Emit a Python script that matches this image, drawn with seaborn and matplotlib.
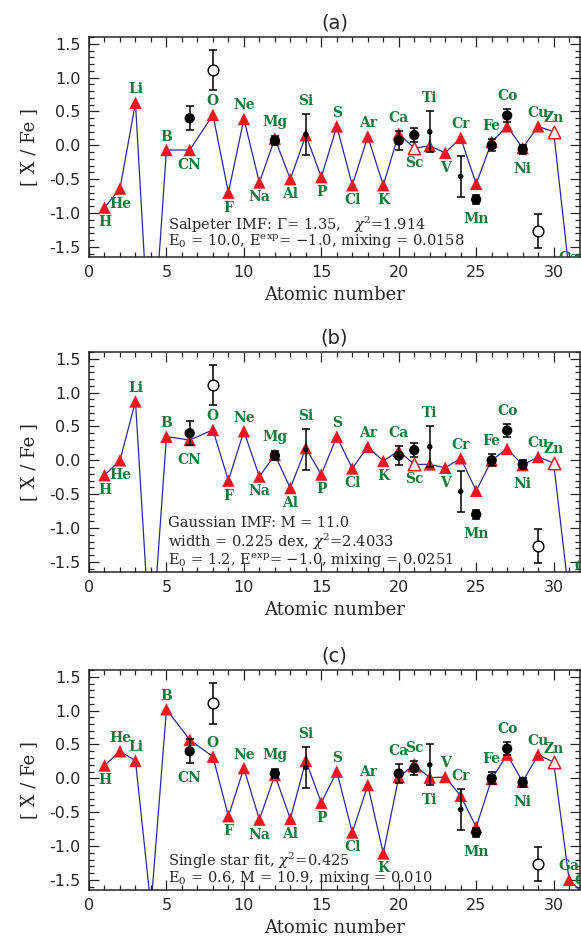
import numpy as np
import pandas as pd
import matplotlib
matplotlib.use('Agg')
import matplotlib.pyplot as plt
from matplotlib.ticker import MultipleLocator, FormatStrFormatter
import seaborn as sns

# Elements along the atomic-number axis (C and N combined as CN at 6.5)
elements = ['H', 'He', 'Li', 'Be', 'B', 'CN', 'O', 'F', 'Ne', 'Na', 'Mg', 'Al', 'Si', 'P', 'S',
            'Cl', 'Ar', 'K', 'Ca', 'Sc', 'Ti', 'V', 'Cr', 'Mn', 'Fe', 'Co', 'Ni', 'Cu', 'Zn', 'Ga', 'Ge']
atomic_z = [1, 2, 3, 4, 5, 6.5, 8, 9, 10, 11, 12, 13, 14, 15, 16,
            17, 18, 19, 20, 21, 22, 23, 24, 25, 26, 27, 28, 29, 30, 31, 32]
open_model = ['Sc', 'Zn']

# Model [X/Fe] for each panel
model_a = [-0.92, -0.64, 0.63, -3.4, -0.07, -0.07, 0.45, -0.70, 0.39, -0.55, 0.10, -0.50, 0.15, -0.47, 0.28,
           -0.59, 0.13, -0.59, 0.17, -0.04, -0.01, -0.11, 0.11, -0.57, 0.05, 0.28, -0.04, 0.28, 0.20, -1.86, -1.90]
model_b = [-0.22, 0.00, 0.87, -2.9, 0.35, 0.30, 0.45, -0.30, 0.43, -0.24, 0.08, -0.41, 0.18, -0.21, 0.35,
           -0.12, 0.20, -0.01, 0.14, -0.06, -0.06, -0.11, 0.03, -0.45, 0.00, 0.17, -0.07, 0.05, -0.04, -2.00, -1.78]
model_c = [0.19, 0.40, 0.26, -1.9, 1.02, 0.57, 0.32, -0.56, 0.15, -0.61, 0.05, -0.60, 0.26, -0.36, 0.10,
           -0.80, -0.10, -1.11, 0.02, 0.20, 0.01, 0.02, -0.26, -0.72, -0.01, 0.35, -0.05, 0.35, 0.24, -1.50, -1.72]

# label side per element (u = above, d = below, - = none)
#          H  He Li Be  B..K (14)           Ca..Mn    Fe..Ge
sides_a = 'ddu-' + 'ududududududud' + 'ududud' + 'uuduuuu'
sides_b = 'ddu-' + 'ududududududud' + 'ududud' + 'uuduuuu'
sides_c = 'duu-' + 'ududududududud' + 'uuduud' + 'uuduuuu'

# Observed abundances
obs_z = [6.5, 8, 12, 14, 20, 21, 22, 24, 25, 26, 27, 28, 29]
obs_val = [0.40, 1.11, 0.07, 0.16, 0.07, 0.15, 0.20, -0.46, -0.80, 0.00, 0.44, -0.06, -1.27]
obs_err = [0.18, 0.30, 0.07, 0.30, 0.14, 0.10, 0.30, 0.30, 0.07, 0.09, 0.09, 0.07, 0.25]
obs_kind = ['big', 'open', 'big', 'small', 'big', 'big', 'small', 'small', 'big', 'big', 'big', 'big', 'open']

titles = ['(a)', '(b)', '(c)']
notes = [
    [r'Salpeter IMF: $\Gamma$= 1.35,   $\chi^2$=1.914',
     r'E$_0$ = 10.0, E$^{\rm exp}$= $-$1.0, mixing = 0.0158'],
    [r'Gaussian IMF: M = 11.0',
     r'width = 0.225 dex, $\chi^2$=2.4033',
     r'E$_0$ = 1.2, E$^{\rm exp}$= $-$1.0, mixing = 0.0251'],
    [r'Single star fit, $\chi^2$=0.425',
     r'E$_0$ = 0.6, M = 10.9, mixing = 0.010'],
]
note_y = [[-1.17, -1.42], [-0.92, -1.20, -1.48], [-1.22, -1.48]]

sns.set_style('ticks')
plt.rcParams['font.family'] = ['DejaVu Sans']
plt.rcParams['mathtext.fontset'] = 'dejavuserif'

blue = '#2a2a9c'
red = '#ec1520'
green = '#137a3a'

fig = plt.figure(figsize=(5.81, 9.42), dpi=100)
bottoms = [0.7272, 0.3928, 0.0552]

obs = pd.DataFrame({'Z': obs_z, 'val': obs_val, 'err': obs_err, 'kind': obs_kind})

for i, model in enumerate([model_a, model_b, model_c]):
    ax = fig.add_axes([0.1532, bottoms[i], 0.845, 0.2335])
    df = pd.DataFrame({'Z': atomic_z, 'model': model, 'el': elements})
    df['open'] = df['el'].isin(open_model)

    sns.lineplot(data=df, x='Z', y='model', ax=ax, color=blue, lw=0.9,
                 sort=False, estimator=None, zorder=2)
    sns.scatterplot(data=df[~df['open']], x='Z', y='model', ax=ax, marker='^', s=80,
                    color=red, edgecolor='none', zorder=3, legend=False)
    sns.scatterplot(data=df[df['open']], x='Z', y='model', ax=ax, marker='^', s=80,
                    facecolor='white', edgecolor=red, linewidth=1.1, zorder=3, legend=False)

    ax.errorbar(obs['Z'], obs['val'], yerr=obs['err'], fmt='none', ecolor='black',
                elinewidth=1.1, capsize=3, capthick=1.1, zorder=4)
    big = obs[obs['kind'] == 'big']
    small = obs[obs['kind'] == 'small']
    opn = obs[obs['kind'] == 'open']
    sns.scatterplot(data=big, x='Z', y='val', ax=ax, marker='o', s=55, color='black',
                    edgecolor='none', zorder=5, legend=False)
    sns.scatterplot(data=small, x='Z', y='val', ax=ax, marker='o', s=16, color='black',
                    edgecolor='none', zorder=5, legend=False)
    sns.scatterplot(data=opn, x='Z', y='val', ax=ax, marker='o', s=60, facecolor='white',
                    edgecolor='black', linewidth=1.0, zorder=5, legend=False)

    # element labels above/below the model points, clear of filled data error bars
    sides = [sides_a, sides_b, sides_c][i]
    filled = obs[obs['kind'] != 'open'].set_index('Z')
    for z, m, el, sd in zip(atomic_z, model, elements, sides):
        if sd == '-':
            continue
        if sd == 'u':
            top = m
            if z in filled.index:
                top = max(m, filled.loc[z, 'val'] + filled.loc[z, 'err'])
            y = top + 0.20
        else:
            bot = m
            if z in filled.index:
                bot = min(m, filled.loc[z, 'val'] - filled.loc[z, 'err'])
            y = bot - 0.22
        ax.text(z, y, el, color=green, fontsize=10, fontweight='bold', family='DejaVu Serif',
                ha='center', va='center', clip_on=True, zorder=6)

    for txt, yy in zip(notes[i], note_y[i]):
        ax.text(5.1, yy, txt, fontsize=10.5, family='DejaVu Serif', ha='left', va='center', zorder=6)

    ax.set_xlim(0, 31.7)
    ax.set_ylim(-1.65, 1.6)
    ax.xaxis.set_major_locator(MultipleLocator(5))
    ax.xaxis.set_minor_locator(MultipleLocator(1))
    ax.yaxis.set_major_locator(MultipleLocator(0.5))
    ax.yaxis.set_minor_locator(MultipleLocator(0.1))
    ax.yaxis.set_major_formatter(FormatStrFormatter('%.1f'))
    ax.tick_params(which='both', direction='in', top=True, right=True, width=0.9, labelsize=11.5)
    ax.tick_params(which='major', length=7, pad=6)
    ax.tick_params(which='minor', length=3.5)
    for sp in ax.spines.values():
        sp.set_linewidth(1.1)
    ax.set_xlabel('Atomic number', fontsize=13, family='DejaVu Serif', labelpad=4)
    ax.set_ylabel('[ X / Fe ]', fontsize=13, family='DejaVu Serif', labelpad=8)
    ax.set_title(titles[i], fontsize=14, pad=6)

fig.savefig('out.png', dpi=100)
